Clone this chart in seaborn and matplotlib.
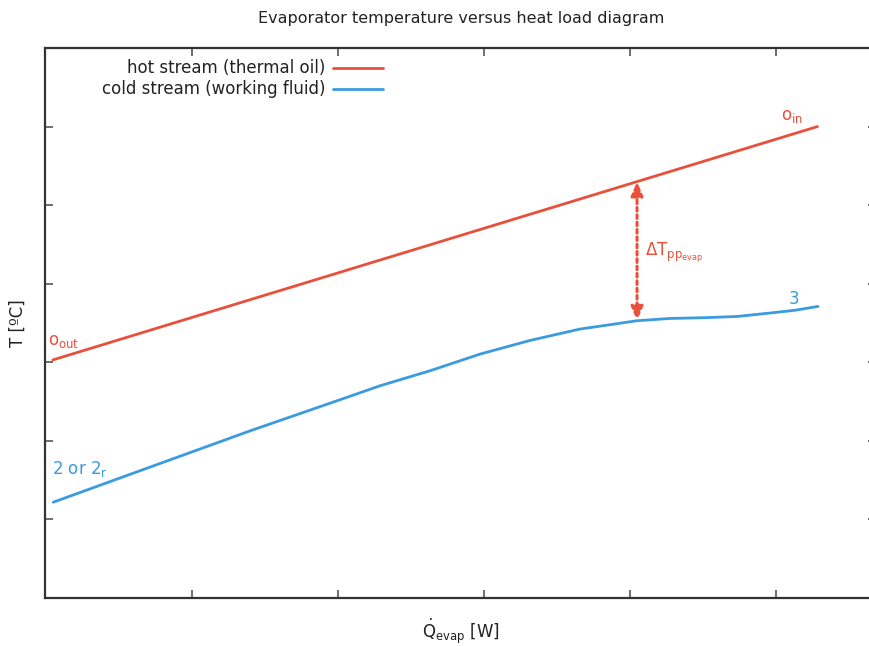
import numpy as np
import pandas as pd
import matplotlib
matplotlib.use("Agg")
import matplotlib.pyplot as plt
import seaborn as sns

# ---- data (arbitrary units) ----
hot_q = [0.05, 5.28]
hot_t = [3.03, 6.00]

cold_q = [0.053, 0.715, 1.399, 2.014, 2.288, 2.630, 2.972, 3.314, 3.656, 3.813,
          4.046, 4.272, 4.497, 4.730, 4.956, 5.126, 5.284]
cold_t = [1.219, 1.666, 2.127, 2.523, 2.701, 2.892, 3.104, 3.278, 3.423, 3.465,
          3.529, 3.558, 3.567, 3.583, 3.627, 3.662, 3.711]

pinch_q = 4.046
pinch_hot_t = 5.30
pinch_cold_t = 3.529

series_names = ["hot stream (thermal oil)", "cold stream (working fluid)"]
RED = "#e8503c"
BLUE = "#3a9be0"

df = pd.concat([
    pd.DataFrame({"Q": hot_q, "T": hot_t, "stream": series_names[0]}),
    pd.DataFrame({"Q": cold_q, "T": cold_t, "stream": series_names[1]}),
])

sns.set_theme(style="white")
plt.rcParams['font.family'] = ['DejaVu Sans']

fig = plt.figure(figsize=(8.7, 6.46), dpi=100)
ax = fig.add_axes([45.5/870, 1-598/646, (876-45.5)/870, (598-48)/646])

sns.lineplot(data=df, x="Q", y="T", hue="stream", palette=[RED, BLUE],
             linewidth=2.0, legend=False, ax=ax, estimator=None, sort=False,
             solid_joinstyle="round", solid_capstyle="round")

ax.set_xlim(0, (876-45.5)/146.2)
ax.set_ylim(0, 7)
ax.set_xticks([1, 2, 3, 4, 5])
ax.set_yticks([1, 2, 3, 4, 5, 6])
ax.set_xticklabels([])
ax.set_yticklabels([])
ax.tick_params(direction="in", length=6, width=1.2, color="#555555",
               top=True, right=True, bottom=True, left=True)
for s in ax.spines.values():
    s.set_color("#333333")
    s.set_linewidth(1.6)
    s.set_visible(True)
ax.spines["right"].set_visible(False)

# pinch arrow
ax.annotate("", xy=(pinch_q, pinch_cold_t), xytext=(pinch_q, pinch_hot_t),
            arrowprops=dict(arrowstyle="<|-|>,head_length=0.7,head_width=0.3",
                            linestyle=(0, (1.2, 1.2)), color=RED, lw=2.2,
                            shrinkA=0, shrinkB=0))

# annotations
ax.text(0.017, 3.22, r"o$_{\mathrm{out}}$", color=RED, fontsize=12, ha="left", va="baseline")
ax.text(5.03, 6.08, r"o$_{\mathrm{in}}$", color=RED, fontsize=12, ha="left", va="baseline")
ax.text(0.045, 1.58, r"2 or 2$_{\mathrm{r}}$", color=BLUE, fontsize=12, ha="left", va="baseline")
ax.text(5.086, 3.745, "3", color=BLUE, fontsize=12, ha="left", va="baseline")
ax.text(4.10, 4.36, r"$\Delta$T$_{\mathrm{pp}_{\mathrm{evap}}}$", color=RED, fontsize=12,
        ha="left", va="baseline")

# legend (text right-aligned, sample line on the right)
axw = 876 - 45.5
for i, (name, col) in enumerate(zip(series_names, [RED, BLUE])):
    yax = (598 - (68 + 21*i)) / 550
    ax.text((325-45.5)/axw, yax, name, transform=ax.transAxes, fontsize=12,
            ha="right", va="center", color="#222222")
    ax.plot([(333-45.5)/axw, (383-45.5)/axw], [yax, yax], transform=ax.transAxes,
            color=col, lw=2.0)

ax.set_title("Evaporator temperature versus heat load diagram", fontsize=11.5, pad=18,
             color="#222222")
ax.set_xlabel(r"$\dot{\mathrm{Q}}_{\mathrm{evap}}$ [W]", fontsize=12, labelpad=10, color="#222222")
ax.set_ylabel("T [ºC]", fontsize=12, labelpad=10, color="#222222")

fig.savefig("out.png", dpi=100)
